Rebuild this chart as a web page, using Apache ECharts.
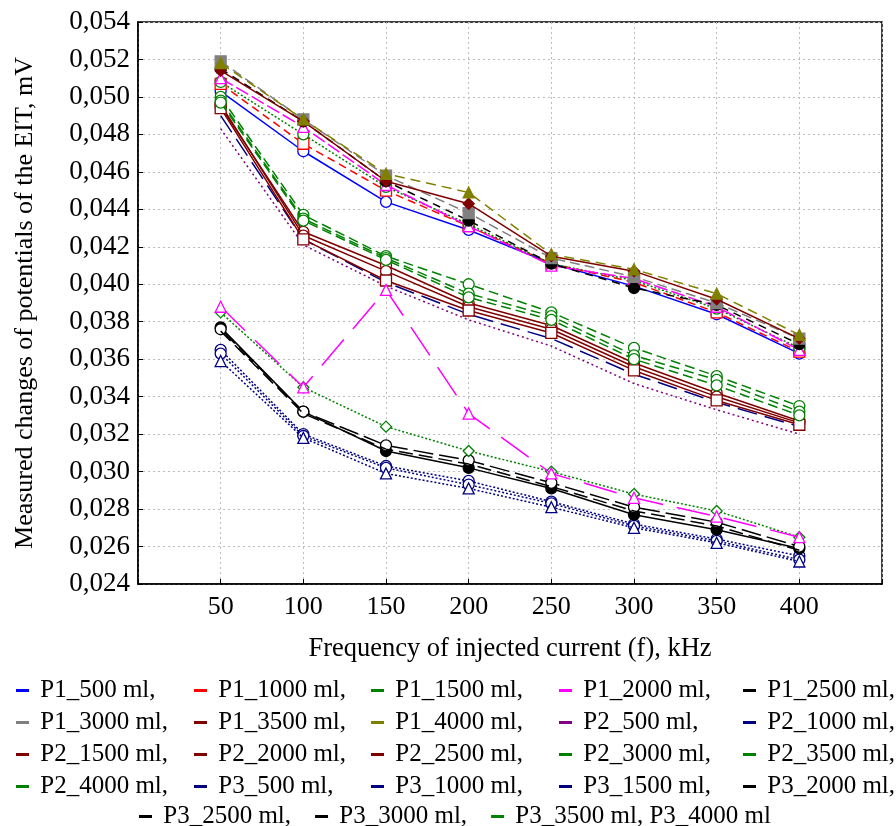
<!DOCTYPE html>
<html>
<head>
<meta charset="utf-8">
<script src="https://cdn.jsdelivr.net/npm/echarts@6/dist/echarts.min.js"></script>
<style>
  html, body { margin: 0; padding: 0; background: #fff; }
  #chart { width: 896px; height: 826px; }
</style>
</head>
<body>
<div id="chart"></div>
<script>
// frequencies, kHz
const freqs = [50, 100, 150, 200, 250, 300, 350, 400];

// P1 series
const p1_500  = [0.0503, 0.0471, 0.0444, 0.0429, 0.0411, 0.0399, 0.0384, 0.0363];
const p1_1000 = [0.0507, 0.0475, 0.0450, 0.0431, 0.0411, 0.0401, 0.0385, 0.0364];
const p1_1500 = [0.0508, 0.0480, 0.0452, 0.0432, 0.0411, 0.0402, 0.0387, 0.0366];
const p1_2000 = [0.0510, 0.0484, 0.0453, 0.0431, 0.0410, 0.0403, 0.0388, 0.0365];
const p1_2500 = [0.0515, 0.0487, 0.0455, 0.0434, 0.0411, 0.0398, 0.0389, 0.0368];
const p1_3000 = [0.0519, 0.0488, 0.0458, 0.0438, 0.0414, 0.0404, 0.0390, 0.0371];
const p1_3500 = [0.0514, 0.0487, 0.0455, 0.0443, 0.0415, 0.0407, 0.0392, 0.0371];
const p1_4000 = [0.0518, 0.0488, 0.0459, 0.0449, 0.0416, 0.0408, 0.0395, 0.0373];

// P2 series
const p2_500  = [0.0483, 0.0421, 0.0399, 0.0381, 0.0367, 0.0347, 0.0333, 0.0320];
const p2_1000 = [0.0490, 0.0424, 0.0401, 0.0384, 0.0371, 0.0352, 0.0337, 0.0324];
const p2_1500 = [0.0495, 0.0428, 0.0410, 0.0390, 0.0378, 0.0358, 0.0342, 0.0327];
const p2_2000 = [0.0496, 0.0426, 0.0407, 0.0388, 0.0376, 0.0356, 0.0340, 0.0326];
const p2_2500 = [0.0494, 0.0424, 0.0402, 0.0386, 0.0374, 0.0354, 0.0338, 0.0325];
const p2_3000 = [0.0500, 0.0437, 0.0415, 0.0400, 0.0385, 0.0366, 0.0351, 0.0335];
const p2_3500 = [0.0498, 0.0435, 0.0414, 0.0395, 0.0383, 0.0362, 0.0349, 0.0332];
const p2_4000 = [0.0497, 0.0434, 0.0413, 0.0393, 0.0381, 0.0360, 0.0346, 0.0330];

// P3 series
const p3_500  = [0.0365, 0.0320, 0.0303, 0.0295, 0.0284, 0.0272, 0.0264, 0.0255];
const p3_1000 = [0.0363, 0.0319, 0.0302, 0.0293, 0.0283, 0.0271, 0.0263, 0.0253];
const p3_1500 = [0.0359, 0.0318, 0.0299, 0.0291, 0.0281, 0.0270, 0.0262, 0.0252];
const p3_2000 = [0.0377, 0.0332, 0.0311, 0.0302, 0.0291, 0.0277, 0.0269, 0.0259];
const p3_2500 = [0.0376, 0.0332, 0.0314, 0.0306, 0.0294, 0.0281, 0.0273, 0.0260];
const p3_3000 = [0.0375, 0.0331, 0.0312, 0.0304, 0.0292, 0.0279, 0.0271, 0.0258];
const p3_3500 = [0.0385, 0.0345, 0.0324, 0.0311, 0.0300, 0.0288, 0.0279, 0.0265];
const p3_4000 = [0.0388, 0.0345, 0.0397, 0.0331, 0.0299, 0.0286, 0.0276, 0.0265];

const seriesNames = [
  'P1_500 ml', 'P1_1000 ml', 'P1_1500 ml', 'P1_2000 ml', 'P1_2500 ml', 'P1_3000 ml', 'P1_3500 ml', 'P1_4000 ml',
  'P2_500 ml', 'P2_1000 ml', 'P2_1500 ml', 'P2_2000 ml', 'P2_2500 ml', 'P2_3000 ml', 'P2_3500 ml', 'P2_4000 ml',
  'P3_500 ml', 'P3_1000 ml', 'P3_1500 ml', 'P3_2000 ml', 'P3_2500 ml', 'P3_3000 ml', 'P3_3500 ml', 'P3_4000 ml'
];
const seriesValues = [
  p1_500, p1_1000, p1_1500, p1_2000, p1_2500, p1_3000, p1_3500, p1_4000,
  p2_500, p2_1000, p2_1500, p2_2000, p2_2500, p2_3000, p2_3500, p2_4000,
  p3_500, p3_1000, p3_1500, p3_2000, p3_2500, p3_3000, p3_3500, p3_4000
];

// line colour, dash, marker, filled marker?
const looks = [
  ['#0000FF', 'solid',  'circle',   false],
  ['#FF0000', [8, 5],   'rect',     false],
  ['#008000', [2, 2],   'circle',   false],
  ['#FF00FF', [14, 4],  'triangle', false],
  ['#000000', [8, 6],   'circle',   true],
  ['#808080', [10, 5],  'rect',     true],
  ['#800000', 'solid',  'diamond',  true],
  ['#808000', [10, 6],  'triangle', true],
  ['#800080', [2, 3],   'none',     false],
  ['#000080', [20, 8],  'none',     false],
  ['#800000', 'solid',  'circle',   false],
  ['#800000', 'solid',  'circle',   false],
  ['#800000', 'solid',  'rect',     false],
  ['#008000', [10, 5],  'circle',   false],
  ['#008000', [10, 5],  'circle',   false],
  ['#008000', [10, 5],  'circle',   false],
  ['#000080', [2, 2],   'circle',   false],
  ['#000080', [2, 2],   'circle',   false],
  ['#000080', [2, 2],   'triangle', false],
  ['#000000', 'solid',  'circle',   true],
  ['#000000', [20, 6],  'circle',   false],
  ['#000000', [14, 6],  'none',     false],
  ['#008000', [2, 2],   'diamond',  false],
  ['#FF00FF', [34, 14], 'triangle', false]
];

const FONT = 'Liberation Serif';

const series = seriesNames.map((name, i) => {
  const [c, dash, sym, filled] = looks[i];
  return {
    name: name,
    type: 'line',
    data: freqs.map((f, k) => [f, seriesValues[i][k]]),
    symbol: sym,
    symbolSize: 11,
    showSymbol: sym !== 'none',
    lineStyle: { color: c, width: 1.5, type: dash },
    itemStyle: { color: filled ? c : '#fff', borderColor: c, borderWidth: 1.3 },
    emphasis: { disabled: true },
    animation: false,
    z: 2 + i % 8
  };
});

const legendItem = (name) => ({
  name: name,
  itemStyle: { color: looks[seriesNames.indexOf(name)][0], borderWidth: 0 },
  icon: 'rect'
});

// legend: 4 rows of 5 columns, then a short last row
const legendCols = [11, 189, 366, 554, 738];
const legendTop = 673;
const legends = legendCols.map((x, col) => ({
  data: [0, 1, 2, 3].map(r => legendItem(seriesNames[r * 5 + col])),
  orient: 'vertical',
  left: x, top: legendTop,
  itemWidth: 13, itemHeight: 3, itemGap: 7,
  formatter: n => ' ' + n + ',',
  textStyle: { fontFamily: FONT, fontSize: 25, color: '#000' },
  selectedMode: false
}));
legends.push({
  data: ['P3_2500 ml', 'P3_3000 ml', 'P3_3500 ml'].map(legendItem),
  left: 134, top: 799,
  itemWidth: 13, itemHeight: 3, itemGap: 24,
  formatter: n => n === 'P3_3500 ml' ? ' P3_3500 ml, P3_4000 ml' : ' ' + n + ',',
  textStyle: { fontFamily: FONT, fontSize: 25, color: '#000' },
  selectedMode: false
});

const chart = echarts.init(document.getElementById('chart'));
chart.setOption({
  backgroundColor: '#fff',
  animation: false,
  grid: {
    left: 138, right: 14, top: 22, bottom: 242,
    show: true, borderColor: '#000', borderWidth: 1.5, backgroundColor: 'transparent'
  },
  xAxis: {
    type: 'value',
    min: 0, max: 450, interval: 50,
    name: 'Frequency of injected current (f), kHz',
    nameLocation: 'middle', nameGap: 52,
    nameTextStyle: { fontFamily: FONT, fontSize: 26.5, color: '#000' },
    axisLine: { lineStyle: { color: '#000', width: 1.5 } },
    axisTick: { inside: true, length: 5, lineStyle: { color: '#000' } },
    axisLabel: {
      fontFamily: FONT, fontSize: 26, color: '#000', margin: 10,
      formatter: v => (v === 0 || v === 450) ? '' : String(v)
    },
    splitLine: { show: true, lineStyle: { color: '#bdbdbd', type: [2, 3], width: 1 } }
  },
  yAxis: {
    type: 'value',
    min: 0.024, max: 0.054, interval: 0.002,
    name: 'Measured changes of potentials of the EIT, mV',
    nameLocation: 'middle', nameGap: 100,
    nameTextStyle: { fontFamily: FONT, fontSize: 26, color: '#000' },
    axisLine: { lineStyle: { color: '#000', width: 1.5 } },
    axisTick: { inside: true, length: 5, lineStyle: { color: '#000' } },
    axisLabel: {
      fontFamily: FONT, fontSize: 27, color: '#000', margin: 8,
      formatter: v => v.toFixed(3).replace('.', ',')
    },
    splitLine: { show: true, lineStyle: { color: '#bdbdbd', type: [2, 3], width: 1 } }
  },
  legend: legends,
  series: series
});
</script>
</body>
</html>
